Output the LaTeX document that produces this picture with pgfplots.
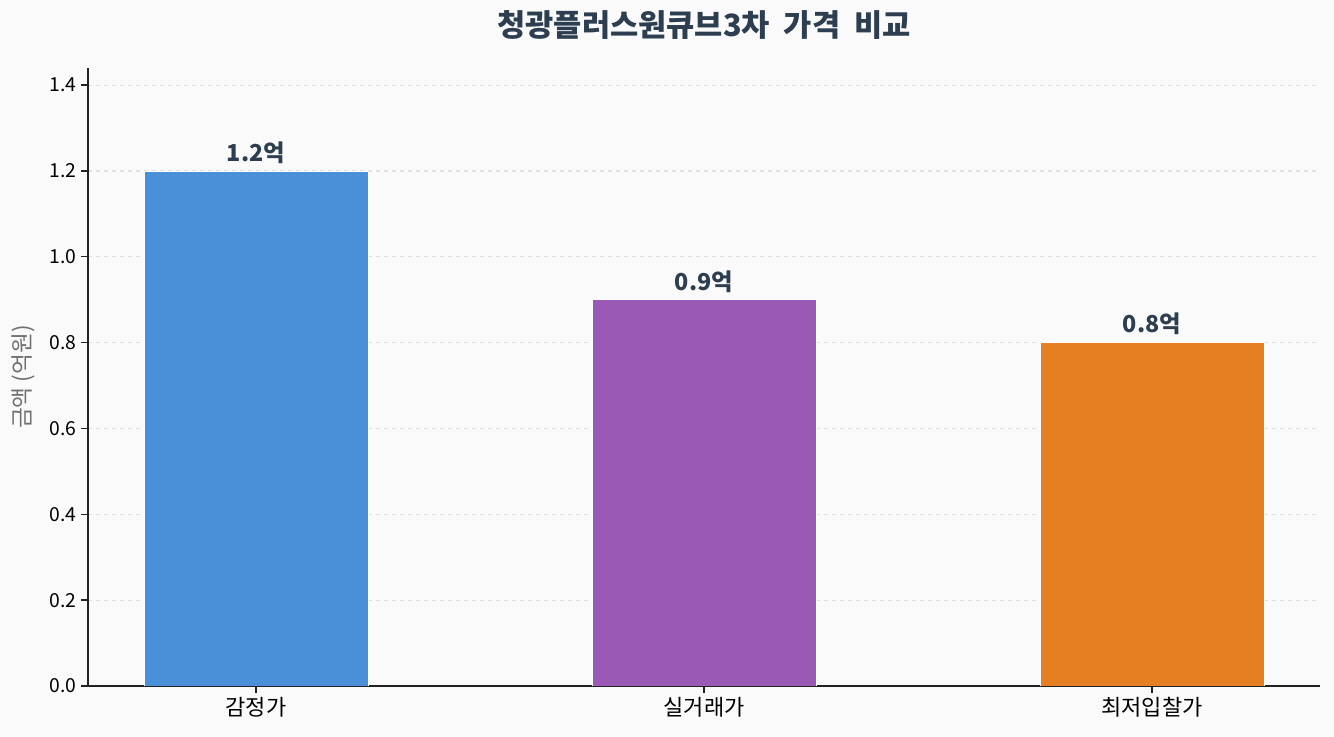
\documentclass[border=0pt]{standalone}
\usepackage{fontspec}
\setmainfont{Noto Sans CJK KR}
\usepackage{pgfplots}
\pgfplotsset{compat=1.18}
\definecolor{bgc}{HTML}{FAFAFA}
\definecolor{titlec}{HTML}{2C3E50}
\definecolor{barblue}{HTML}{4A90D9}
\definecolor{barpurple}{HTML}{9B59B6}
\definecolor{barorange}{HTML}{E67E22}
\definecolor{gridc}{HTML}{E0E0E0}
\definecolor{spinec}{HTML}{222222}
\definecolor{labelc}{HTML}{707070}

\begin{document}
\begin{tikzpicture}
% full canvas: 1334 x 737 px, 1px = 0.75pt
\fill[bgc] (-66pt,-38.25pt) rectangle (934.5pt,514.5pt);
\useasboundingbox (-66pt,-38.25pt) rectangle (934.5pt,514.5pt);
\begin{axis}[
    at={(0pt,0pt)}, anchor=south west,
    width=924pt, height=463.5pt,
    scale only axis,
    axis background/.style={fill=bgc},
    ybar, bar width=0.5,
    xmin=-0.375, xmax=2.375,
    ymin=0, ymax=1.44,
    xtick={0,1,2},
    xticklabels={감정가, 실거래가, 최저입찰가},
    ytick={0,0.2,...,1.4},
    yticklabel style={/pgf/number format/fixed,/pgf/number format/fixed zerofill,/pgf/number format/precision=1},
    /pgf/number format/assume math mode=true,
    tick label style={font=\fontsize{14.5}{16}\selectfont, text=black},
    x tick label style={font=\fontsize{16.5}{18}\selectfont},
    axis x line*=bottom, axis y line*=left,
    axis line style={spinec, line width=1pt},
    tick style={spinec, line width=1pt},
    major tick length=5pt,
    tick align=outside,
    ymajorgrids,
    grid style={gridc, dashed, line width=0.8pt},
    ylabel={금액 (억원)},
    ylabel style={font=\fontsize{17}{19}\selectfont, text=labelc, yshift=4pt},
    title={\bfseries 청광플러스원큐브3차\hspace{0.45em}가격\hspace{0.45em}비교},
    title style={font=\fontsize{23}{27}\selectfont, text=titlec, yshift=12pt},
    nodes near coords={\pgfmathprintnumber[fixed,precision=1]{\pgfplotspointmeta}억},
    nodes near coords style={font=\fontsize{17.5}{20}\selectfont\bfseries, text=titlec, /pgf/number format/assume math mode=true, yshift=2pt},
    every axis plot/.append style={bar shift=0pt, draw=white, line width=0.6pt},
]
\addplot[fill=barblue] coordinates {(0,1.2)};
\addplot[fill=barpurple] coordinates {(1,0.9)};
\addplot[fill=barorange] coordinates {(2,0.8)};
\end{axis}
\end{tikzpicture}
\end{document}
